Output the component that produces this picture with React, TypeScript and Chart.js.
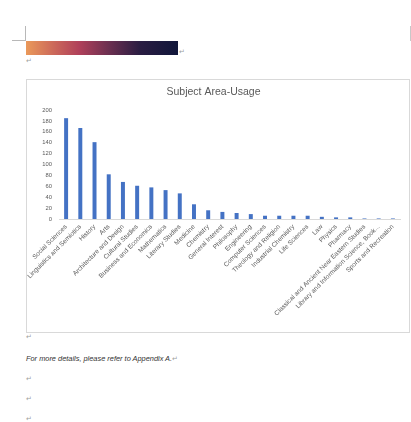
import React, { useEffect, useRef } from "react";
import { Chart, registerables } from "chart.js";

Chart.register(...registerables);

const categories: string[] = [
  "Social Sciences",
  "Linguistics and Semiotics",
  "History",
  "Arts",
  "Architecture and Design",
  "Cultural Studies",
  "Business and Economics",
  "Mathematics",
  "Literary Studies",
  "Medicine",
  "Chemistry",
  "General Interest",
  "Philosophy",
  "Engineering",
  "Computer Sciences",
  "Theology and Religion",
  "Industrial Chemistry",
  "Life Sciences",
  "Law",
  "Physics",
  "Pharmacy",
  "Classical and Ancient Near Eastern Studies",
  "Library and Information Science, Book...",
  "Sports and Recreation",
];

const usage: number[] = [185, 167, 141, 82, 68, 61, 58, 53, 47, 27, 16, 13, 11, 9, 6, 6, 6, 6, 4, 3, 3, 1, 1, 1];

const chartTitle = "Subject Area-Usage";
const noteText = "For more details, please refer to Appendix A.";

const FONT = "'Liberation Sans', Arial, sans-serif";

function BarChart() {
  const ref = useRef<HTMLCanvasElement | null>(null);
  useEffect(() => {
    if (!ref.current) return;
    const chart = new Chart(ref.current, {
      type: "bar",
      data: {
        labels: categories,
        datasets: [
          {
            data: usage,
            backgroundColor: "#4472C4",
            borderWidth: 0,
            barPercentage: 0.56,
            categoryPercentage: 0.5,
          },
        ],
      },
      options: {
        animation: false,
        responsive: false,
        maintainAspectRatio: false,
        devicePixelRatio: 1,
        layout: { padding: { left: 0, right: 8, top: 0, bottom: 0 } },
        plugins: {
          legend: { display: false },
          tooltip: { enabled: false },
          title: {
            display: true,
            text: chartTitle,
            color: "#595959",
            font: { family: FONT, size: 10.5, weight: "normal" },
            padding: { top: 6, bottom: 11.4 },
          },
        },
        scales: {
          x: {
            grid: { display: false, drawTicks: false },
            border: { display: true, color: "#d9d9d9", width: 1 },
            ticks: {
              autoSkip: false,
              maxRotation: 45,
              minRotation: 45,
              padding: 4,
              color: "#595959",
              font: { family: FONT, size: 6.5 },
            },
            afterFit: (s: any) => {
              s.height = 111;
            },
          },
          y: {
            min: 0,
            max: 200,
            grid: { display: false, drawTicks: false },
            border: { display: false },
            ticks: {
              stepSize: 20,
              padding: 7,
              color: "#595959",
              font: { family: FONT, size: 5.8 },
            },
            afterFit: (s: any) => {
              s.width = 32;
            },
          },
        },
      },
    });
    return () => chart.destroy();
  }, []);
  return <canvas ref={ref} width={381} height={250} style={{ display: "block", width: 381, height: 250 }} />;
}

const pilcrowStyle: React.CSSProperties = {
  position: "absolute",
  fontFamily: FONT,
  fontSize: 7,
  color: "#a0a0a0",
  lineHeight: "8px",
};

export default function App() {
  return (
    <div
      style={{
        position: "fixed",
        left: 0,
        top: 0,
        width: 411,
        height: 422,
        background: "#ffffff",
        overflow: "hidden",
      }}
    >
      {/* crop marks */}
      <div style={{ position: "absolute", left: 25, top: 26, width: 1, height: 15, background: "#b8b8b8" }} />
      <div style={{ position: "absolute", left: 12, top: 40, width: 14, height: 1, background: "#b8b8b8" }} />
      <div style={{ position: "absolute", left: 410, top: 26, width: 1, height: 15, background: "#c8c8c8" }} />
      {/* gradient bar */}
      <div
        style={{
          position: "absolute",
          left: 26,
          top: 41,
          width: 152,
          height: 14,
          background: "linear-gradient(to right, #EA995A 0%, #C9645A 20%, #B0405A 35%, #6a2f50 55%, #2a1d42 75%, #10163a 100%)",
        }}
      />
      <div style={{ ...pilcrowStyle, left: 179, top: 48 }}>↵</div>
      <div style={{ ...pilcrowStyle, left: 26, top: 57 }}>↵</div>
      {/* chart box */}
      <div
        style={{
          position: "absolute",
          left: 26,
          top: 79,
          width: 384,
          height: 254,
          border: "1px solid #d9d9d9",
          boxSizing: "border-box",
          background: "#fff",
        }}
      >
        <BarChart />
      </div>
      <div style={{ ...pilcrowStyle, left: 26, top: 333 }}>↵</div>
      <div
        style={{
          position: "absolute",
          left: 26,
          top: 354,
          fontFamily: FONT,
          fontStyle: "italic",
          fontSize: 7.4,
          color: "#333",
          lineHeight: "9px",
          whiteSpace: "nowrap",
        }}
      >
        {noteText}
        <span style={{ color: "#a0a0a0", fontStyle: "normal" }}>↵</span>
      </div>
      <div style={{ ...pilcrowStyle, left: 26, top: 375 }}>↵</div>
      <div style={{ ...pilcrowStyle, left: 26, top: 395 }}>↵</div>
      <div style={{ ...pilcrowStyle, left: 26, top: 415 }}>↵</div>
    </div>
  );
}
